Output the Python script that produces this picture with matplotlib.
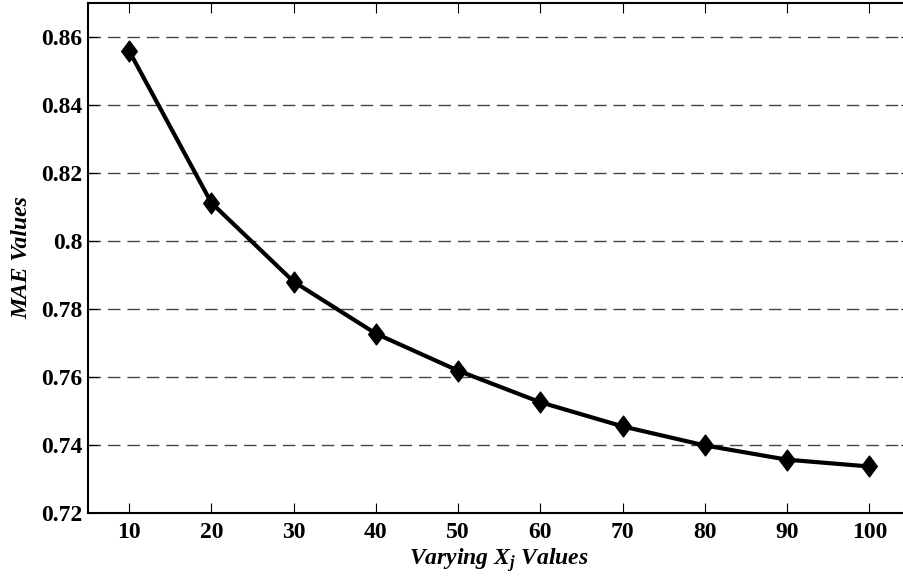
import matplotlib
matplotlib.use("Agg")
import matplotlib.pyplot as plt
from matplotlib.path import Path

x_values = [10, 20, 30, 40, 50, 60, 70, 80, 90, 100]
mae_values = [0.8559, 0.8112, 0.7880, 0.7727, 0.7618, 0.7525, 0.7454, 0.7398, 0.7356, 0.7336]
y_ticks = [0.72, 0.74, 0.76, 0.78, 0.80, 0.82, 0.84, 0.86]
y_tick_labels = ["0.72", "0.74", "0.76", "0.78", "0.8", "0.82", "0.84", "0.86"]

plt.rcParams['font.family'] = ['Liberation Serif', 'DejaVu Serif']
plt.rcParams['mathtext.fontset'] = 'custom'
plt.rcParams['mathtext.it'] = 'Liberation Serif:italic:bold'
plt.rcParams['mathtext.rm'] = 'Liberation Serif:bold'

fig = plt.figure(figsize=(9.04, 5.83), dpi=100)
ax = fig.add_axes([88/904, (583-512.7)/583, (910.5-88)/904, (512.7-3)/583])

diamond = Path([(0, 1), (0.75, 0), (0, -1), (-0.75, 0), (0, 1)],
               [Path.MOVETO, Path.LINETO, Path.LINETO, Path.LINETO, Path.CLOSEPOLY])
ax.plot(x_values, mae_values, color='black', lw=3, marker=diamond,
        markersize=15, markerfacecolor='black', markeredgecolor='black', zorder=3)

ax.set_xlim(5, 105)
ax.set_ylim(0.72, 0.87)
ax.set_xticks(x_values)
ax.set_yticks(y_ticks)
ax.set_yticklabels(y_tick_labels)

for yv in y_ticks[1:]:
    ax.axhline(yv, color='#444444', lw=1.0, dashes=(9, 5), zorder=1)

ax.tick_params(direction='in', length=7, width=0.8, top=True, right=True,
               labelsize=17)
ax.tick_params(axis='x', pad=7)
ax.tick_params(axis='y', pad=4)
for lab in ax.get_xticklabels() + ax.get_yticklabels():
    lab.set_fontweight('bold')
for s in ax.spines.values():
    s.set_linewidth(1.5)

ax.set_ylabel('MAE Values', fontsize=17, fontweight='bold', style='italic', labelpad=6)
ax.set_xlabel(r'Varying $X_j$ Values', fontsize=17, fontweight='bold', style='italic', labelpad=2)

fig.savefig('out.png', dpi=100)
